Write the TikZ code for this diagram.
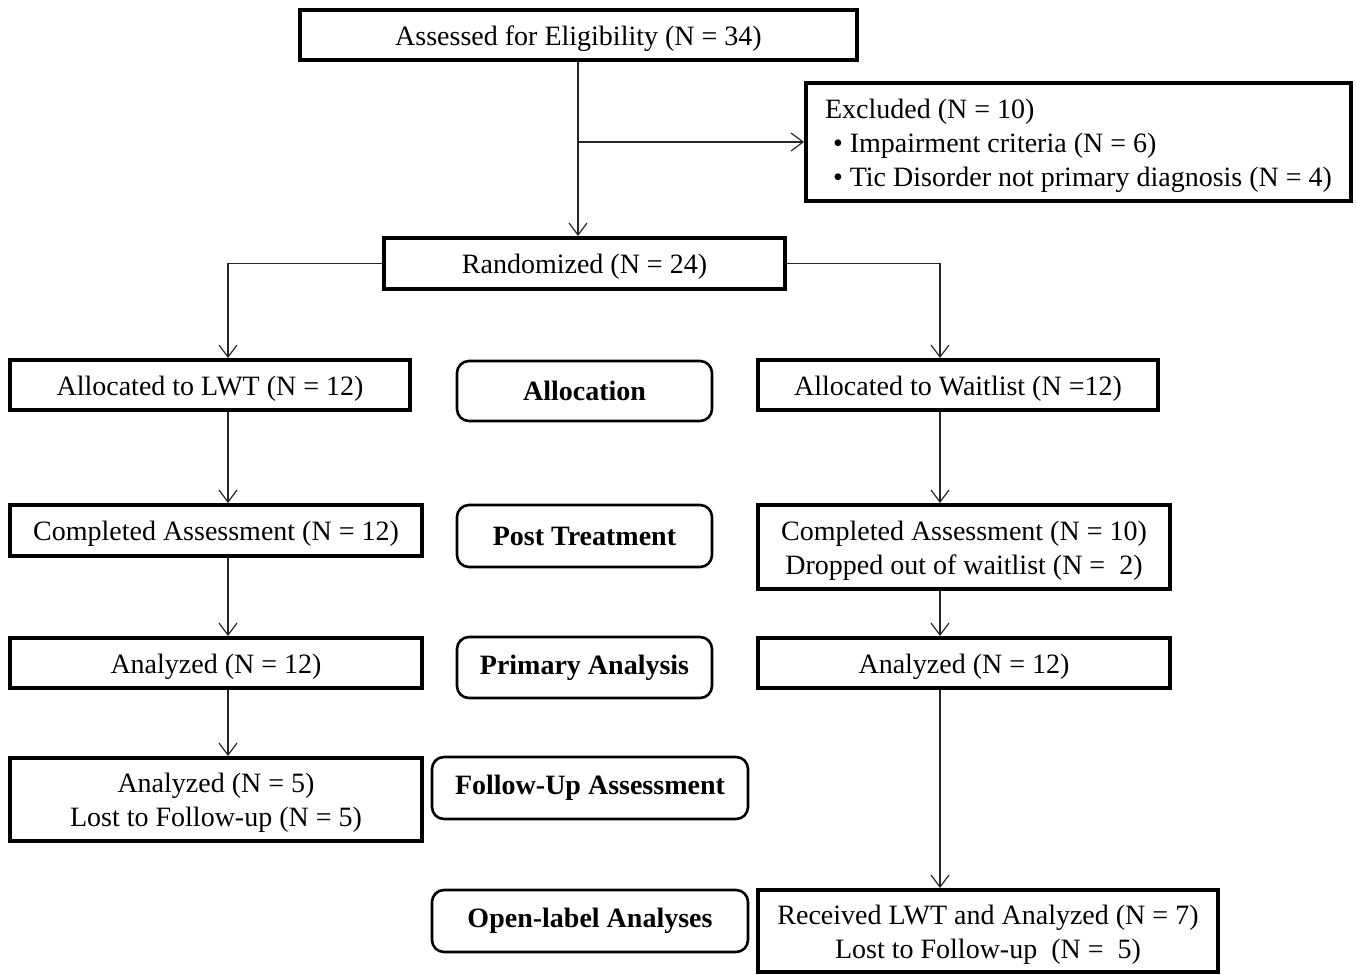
\documentclass[tikz,border=0pt]{standalone}
\usepackage{fontspec}
\setmainfont{Liberation Serif}
\usetikzlibrary{arrows.meta}
\newcommand\boxtext[2][c]{\raisebox{0pt}[\dimexpr\height+3.6pt\relax][\depth]{\begin{tabular}{@{}#1@{}}#2\end{tabular}}}
\begin{document}
\begin{tikzpicture}[x=0.5pt,y=-0.5pt,
  box/.style={draw, line width=2pt, inner sep=0pt, font=\fontsize{14}{17}\selectfont},
  stage/.style={draw, line width=1.3pt, rounded corners=6pt, inner sep=0pt, align=center, font=\fontsize{14}{17}\selectfont\bfseries},
  arr/.style={draw=black!85, line width=0.6pt, -{Straight Barb[length=6pt,width=9pt,line width=0.6pt]}},
  ln/.style={draw=black!85, line width=0.6pt}]
\useasboundingbox (0,0) rectangle (1356,975);
\fill[white] (0,0) rectangle (1356,975);

\node[box, minimum width=278.5pt, minimum height=25pt] (assess) at (578.5,35) {\boxtext{Assessed for Eligibility (N = 34)}};
\node[box, minimum width=272.5pt, minimum height=59pt] (excl) at (1078.5,142) {\boxtext[l]{Excluded (N = 10)\\\hspace{4pt}• Impairment criteria (N = 6)\\\hspace{4pt}• Tic Disorder not primary diagnosis (N = 4)}};
\node[box, minimum width=200.5pt, minimum height=25.5pt] (rand) at (584.5,263.5) {\boxtext{Randomized (N = 24)}};

\node[box, minimum width=200pt, minimum height=25pt] (lwt) at (210,385) {\boxtext{Allocated to LWT (N = 12)}};
\node[stage, minimum width=127.5pt, minimum height=30pt] (alloc) at (584.5,391) {Allocation};
\node[box, minimum width=200pt, minimum height=25pt] (wait) at (958,385) {\boxtext{Allocated to Waitlist (N =12)}};

\node[box, minimum width=206pt, minimum height=25.5pt] (compL) at (216,530.5) {\boxtext{Completed Assessment (N = 12)}};
\node[stage, minimum width=127.5pt, minimum height=31pt] (post) at (584.5,536) {Post Treatment};
\node[box, minimum width=206pt, minimum height=42pt] (compR) at (964,547) {\boxtext{Completed Assessment (N = 10)\\Dropped out of waitlist (N =\ \ 2)}};

\node[box, minimum width=206pt, minimum height=25pt] (anaL) at (216,663) {\boxtext{Analyzed (N = 12)}};
\node[stage, minimum width=127.5pt, minimum height=30.5pt] (prim) at (584.5,667.5) {Primary Analysis};
\node[box, minimum width=206pt, minimum height=25pt] (anaR) at (964,663) {\boxtext{Analyzed (N = 12)}};

\node[box, minimum width=206pt, minimum height=41.5pt] (fuL) at (216,799.5) {\boxtext{Analyzed (N = 5)\\Lost to Follow-up (N = 5)}};
\node[stage, minimum width=158pt, minimum height=31pt] (fu) at (590,788) {Follow-Up Assessment};

\node[stage, minimum width=158pt, minimum height=31pt] (open) at (590,921) {Open-label Analyses};
\node[box, minimum width=230pt, minimum height=41pt] (recv) at (988,931) {\boxtext{Received LWT and Analyzed (N = 7)\\Lost to Follow-up\ \ (N =\ \ 5)}};

\coordinate (cl) at (228,0);
\coordinate (cr) at (940,0);
\coordinate (cm) at (578,0);

\draw[arr] (assess.south -| cm) -- (rand.north -| cm);
\draw[arr] (excl.west -| cm) -- (excl.west);
\draw[arr] (rand.west) -| (lwt.north -| cl);
\draw[arr] (rand.east) -| (wait.north -| cr);
\draw[arr] (lwt.south -| cl) -- (compL.north -| cl);
\draw[arr] (compL.south -| cl) -- (anaL.north -| cl);
\draw[arr] (anaL.south -| cl) -- (fuL.north -| cl);
\draw[arr] (wait.south -| cr) -- (compR.north -| cr);
\draw[arr] (compR.south -| cr) -- (anaR.north -| cr);
\draw[arr] (anaR.south -| cr) -- (recv.north -| cr);
\end{tikzpicture}
\end{document}
